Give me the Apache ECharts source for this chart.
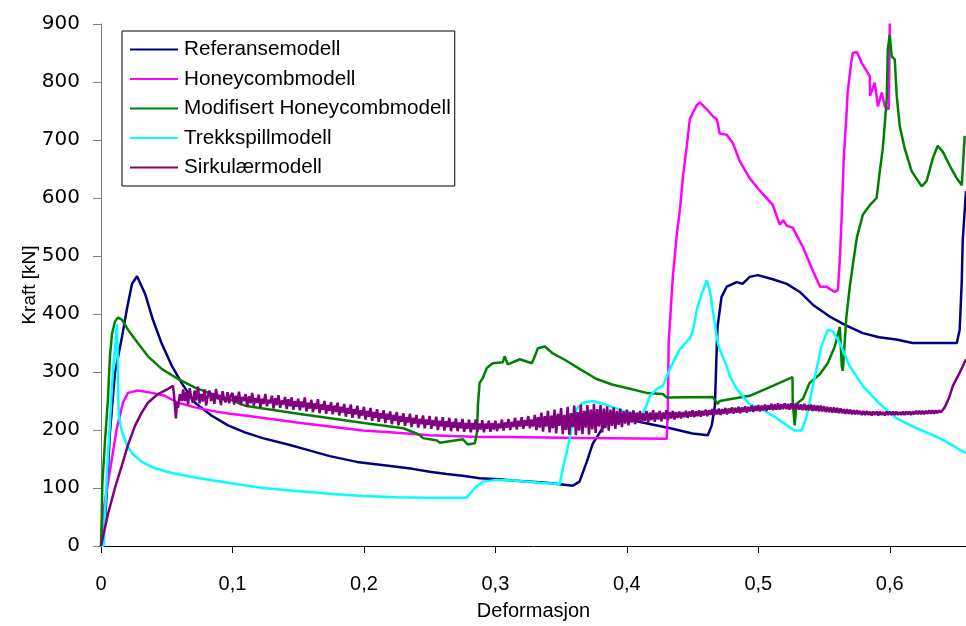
<!DOCTYPE html>
<html>
<head>
<meta charset="utf-8">
<script src="https://cdn.jsdelivr.net/npm/echarts@6/dist/echarts.min.js"></script>
<style>
html,body{margin:0;padding:0;background:#fff;}
#chart{width:966px;height:626px;}
</style>
</head>
<body>
<div id="chart"></div>
<script>
// Series names
const seriesNames = ['Referansemodell','Honeycombmodell','Modifisert Honeycombmodell','Trekkspillmodell','Sirkulærmodell'];
const seriesColors = ['#000080','#FF00FF','#008000','#00FFFF','#800080'];

// Axis ticks
const xTicks = [0,0.1,0.2,0.3,0.4,0.5,0.6];
const yTicks = [0,100,200,300,400,500,600,700,800,900];

// Referansemodell [deformasjon, kraft]
const refData = [[0,0],[.003,40],[.0045,100],[.0068,196],[.0106,298],[.016,361],[.020,412],[.0236,452],[.0274,465],[.0335,435],[.0395,390],[.046,350],[.054,310],[.0616,280],[.0715,247],[.084,225],[.0966,208],[.1095,196],[.123,186],[.1437,174],[.155,167],[.174,155],[.1947,145],[.22,138],[.237,133],[.25,128],[.263,124],[.275,121],[.288,117],[.303,115],[.313,113],[.339,109],[.359,104],[.364,111],[.3695,145],[.374,176],[.382,205],[.389,220],[.395,222],[.412,213],[.433,203],[.45,194],[.4616,191],[.4646,208],[.467,242],[.4685,350],[.469,378],[.472,429],[.476,447],[.4836,455],[.488,452],[.4935,464],[.4996,467],[.511,460],[.5217,452],[.5316,438],[.5415,416],[.554,396],[.567,380],[.5795,367],[.592,360],[.605,356],[.6175,350],[.651,350],[.6532,373],[.6548,458],[.6555,526],[.657,578],[.658,612]];

// Honeycombmodell
const honeyData = [[0,0],[.0005,15],[.0015,55],[.0046,100],[.0084,152],[.012,203],[.0167,247],[.0205,264],[.028,268],[.0388,264],[.0487,259],[.0586,247],[.0715,239],[.0844,233],[.098,228],[.1095,225],[.149,213],[.199,199],[.22,196],[.25,191],[.288,188],[.311,188],[.364,186],[.4304,185],[.4312,237],[.4318,350],[.435,464],[.438,537],[.4403,578],[.4426,634],[.4456,690],[.4479,736],[.4532,760],[.4555,765],[.4608,753],[.4654,741],[.4684,736],[.4707,711],[.476,709],[.4806,695],[.486,663],[.4935,634],[.501,613],[.511,588],[.5163,554],[.519,562],[.5217,552],[.5262,549],[.534,515],[.5414,475],[.547,447],[.552,447],[.558,438],[.5605,441],[.562,492],[.5635,571],[.565,668],[.567,741],[.568,782],[.5703,827],[.5718,850],[.5749,852],[.5787,833],[.5848,810],[.585,776],[.5886,799],[.591,758],[.594,782],[.5962,758],[.5993,753],[.6,901]];

// Modifisert Honeycombmodell
const modHoneyData = [[0,0],[.0005,43],[.001,106],[.003,179],[.0053,254],[.0068,327],[.0084,366],[.0106,387],[.013,394],[.016,390],[.0205,373],[.028,350],[.0357,327],[.0464,305],[.0586,288],[.0715,273],[.0844,262],[.0966,254],[.1095,242],[.15,228],[.2,212],[.23,203],[.24,194],[.2426,191],[.245,186],[.2555,182],[.2578,178],[.2753,184],[.279,175],[.2844,177],[.286,196],[.2867,242],[.288,281],[.2905,290],[.2935,307],[.298,315],[.3057,317],[.307,327],[.3095,313],[.3186,322],[.3277,315],[.33,327],[.3323,341],[.3376,344],[.3437,332],[.3544,319],[.3643,305],[.377,288],[.3894,278],[.4023,271],[.415,264],[.4274,262],[.4304,256],[.4654,257],[.469,245],[.4707,250],[.4935,259],[.511,276],[.526,291],[.5262,247],[.5277,208],[.529,245],[.534,254],[.539,281],[.5468,296],[.5528,315],[.5582,344],[.562,378],[.5635,310],[.5643,302],[.567,395],[.5696,447],[.572,486],[.575,532],[.5795,571],[.585,588],[.590,600],[.5924,646],[.5947,685],[.5977,770],[.5985,856],[.6,881],[.6015,844],[.6038,839],[.6053,776],[.6076,724],[.6114,685],[.6167,646],[.6243,620],[.628,629],[.6327,668],[.6365,690],[.6403,680],[.6456,656],[.651,634],[.6548,622],[.6563,680],[.657,707]];

// Trekkspillmodell
const trekkData = [[0,0],[.002,0],[.003,55],[.0046,128],[.0068,213],[.009,298],[.0114,361],[.012,382],[.0128,320],[.013,271],[.0135,225],[.016,196],[.0198,174],[.0236,160],[.031,145],[.041,134],[.054,126],[.0715,118],[.0966,109],[.123,100],[.149,95],[.174,90],[.199,86],[.225,84],[.25,83],[.278,83],[.2844,100],[.2905,111],[.301,114],[.313,113],[.334,109],[.349,107],[.3513,134],[.355,169],[.358,203],[.362,237],[.3665,247],[.374,250],[.3848,243],[.397,233],[.4114,224],[.415,242],[.4175,259],[.4228,271],[.4274,276],[.4327,305],[.4403,339],[.4479,358],[.4502,370],[.4532,407],[.457,435],[.4608,458],[.4631,441],[.4654,405],[.4692,350],[.4707,339],[.476,310],[.4783,293],[.4836,271],[.486,264],[.4935,244],[.4989,240],[.511,225],[.5217,208],[.5277,199],[.533,199],[.537,225],[.5415,276],[.548,344],[.5528,373],[.5567,370],[.562,350],[.5696,310],[.5795,276],[.5924,245],[.6053,220],[.6205,203],[.638,186],[.658,160]];

// Sirkulærmodell
const sirkData = [[0,0],[.0053,55],[.0106,100],[.016,140],[.0205,174],[.026,208],[.031,230],[.0357,247],[.0433,262],[.051,271],[.0547,276],[.0555,262],[.057,220],[.0578,248],[.0586,238],[.060,262],[.0615,250],
[.0625,270],[.06375,250],[.065,266],[.06625,244],[.0675,272],[.06875,255],[.07,247],[.07125,268],[.0725,251],[.07375,275],[.075,246],[.07625,262],[.0775,249],[.07875,270],[.08,242],[.08125,259],[.0825,268],[.08375,250],[.085,264],[.08625,245],[.0875,271],[.08875,253],[.09,261],[.09125,243],[.0925,267],[.09375,252],[.095,248],[.09625,265],[.0975,246],[.09875,260],
[.1,264],[.10125,244],[.1025,259],[.10375,248],[.105,266],[.10625,243],[.1075,257],[.10875,250],[.11,262],[.11125,240],[.1125,258],[.11375,246],[.115,264],[.11625,242],[.1175,255],[.11875,247],[.12,261],[.12125,239],[.1225,254],[.12375,245],[.125,262],[.12625,241],[.1275,252],[.12875,246],[.13,259],[.13125,237],[.1325,255],[.13375,243],[.135,260],[.13625,238],[.1375,251],[.13875,244],[.14,257],[.14125,236],[.1425,253],[.14375,241],[.145,256],[.14625,235],[.1475,250],[.14875,240],
[.15,254],[.15125,234],[.1525,249],[.15375,239],[.155,256],[.15625,232],[.1575,247],[.15875,237],[.16,252],[.16125,231],[.1625,246],[.16375,236],[.165,253],[.16625,229],[.1675,244],[.16875,235],[.17,250],[.17125,228],[.1725,243],[.17375,233],[.175,248],[.17625,227],[.1775,242],[.17875,231],[.18,247],[.18125,225],[.1825,240],[.18375,230],[.185,245],[.18625,223],[.1875,238],[.18875,228],[.19,244],[.19125,221],[.1925,236],[.19375,227],[.195,242],[.19625,220],[.1975,234],[.19875,225],
[.2,240],[.20125,218],[.2025,233],[.20375,223],[.205,238],[.20625,216],[.2075,231],[.20875,221],[.21,236],[.21125,214],[.2125,229],[.21375,220],[.215,234],[.21625,212],[.2175,228],[.21875,218],[.22,232],[.22125,210],[.2225,226],[.22375,216],[.225,231],[.22625,208],[.2275,224],[.22875,214],[.23,229],[.23125,207],[.2325,222],[.23375,213],[.235,228],[.23625,205],[.2375,221],[.23875,211],[.24,226],[.24125,204],[.2425,219],[.24375,210],[.245,225],[.24625,203],[.2475,218],[.24875,209],
[.25,224],[.25125,202],[.2525,217],[.25375,207],[.255,223],[.25625,200],[.2575,216],[.25875,206],[.26,222],[.26125,199],[.2625,215],[.26375,205],[.265,221],[.26625,198],[.2675,214],[.26875,204],[.27,220],[.27125,198],[.2725,213],[.27375,203],[.275,219],[.27625,197],[.2775,212],[.27875,202],[.28,218],[.28125,196],[.2825,212],[.28375,201],[.285,218],[.28625,197],[.2875,211],[.28875,201],[.29,217],[.29125,196],[.2925,211],[.29375,202],[.295,216],[.29625,197],[.2975,212],[.29875,201],
[.3,216],[.30125,198],[.3025,211],[.30375,203],[.305,218],[.30625,199],[.3075,213],[.30875,204],[.31,219],[.31125,200],[.3125,214],[.31375,205],[.315,221],[.31625,201],[.3175,216],[.31875,206],[.32,222],[.32125,202],[.3225,217],[.32375,207],[.325,224],[.32625,203],[.3275,218],[.32875,206],
[.33,226],[.33125,200],[.3325,222],[.33375,204],[.335,230],[.33625,197],[.3375,224],[.33875,206],[.34,233],[.34125,196],[.3425,225],[.34375,203],[.345,235],[.34625,194],[.3475,228],[.34875,207],[.35,238],[.35125,193],[.3525,226],[.35375,200],[.355,240],[.35625,192],[.3575,229],[.35875,205],[.36,242],[.36125,191],[.3625,231],[.36375,199],[.365,244],[.36625,193],[.3675,233],[.36875,204],[.37,243],[.37125,192],[.3725,235],[.37375,201],[.375,245],[.37625,195],[.3775,236],[.37875,206],[.38,243],[.38125,196],[.3825,237],[.38375,203],[.385,241],[.38625,199],[.3875,235],[.38875,207],[.39,239],[.39125,202],[.3925,233],[.39375,209],[.395,237],[.39625,205],[.3975,232],[.39875,211],
[.4,235],[.40125,208],[.4025,231],[.40375,213],[.405,234],[.40625,210],[.4075,230],[.40875,215],[.41,233],[.41125,212],[.4125,229],[.41375,216],[.415,233],[.41625,213],[.4175,230],[.41875,217],[.42,234],[.42125,214],[.4225,230],[.42375,218],[.425,233],[.42625,215],[.4275,230],[.42875,219],[.43,234],[.43125,217],[.4325,231],[.43375,220],[.435,233],[.43625,218],[.4375,231],[.43875,221],
[.44,232],[.44125,220],[.4425,231],[.44375,222],[.445,233],[.44625,221],[.4475,232],[.44875,223],[.45,234],[.45125,222],[.4525,232],[.45375,224],[.455,234],[.45625,223],[.4575,233],[.45875,225],[.46,235],[.46125,224],[.4625,234],[.46375,226],[.465,236],[.46625,225],[.4675,235],[.46875,227],[.47,237],[.47125,226],[.4725,236],[.47375,228],[.475,238],[.47625,227],[.4775,237],[.47875,229],[.48,239],[.48125,228],[.4825,238],[.48375,230],[.485,240],[.48625,229],[.4875,239],[.48875,231],[.49,241],[.49125,230],[.4925,240],[.49375,232],[.495,242],[.49625,231],[.4975,241],[.49875,233],[.5,243],[.50125,232],[.5025,242],[.50375,234],[.505,244],[.50625,233],[.5075,243],[.50875,235],[.51,245],[.51125,234],[.5125,244],[.51375,235],[.515,246],[.51625,235],[.5175,244],[.51875,236],
[.52,246],[.52125,236],[.5225,245],[.52375,235],[.525,246],[.52625,236],[.5275,245],[.52875,235],[.53,245],[.53125,235],[.5325,244],[.53375,234],[.535,245],[.53625,234],[.5375,243],[.53875,234],[.54,244],[.54125,233],[.5425,243],[.54375,233],[.545,242],[.54625,232],[.5475,242],[.54875,232],[.55,241],[.55125,231],[.5525,240],[.55375,231],[.555,239],[.55625,230],[.5575,239],[.55875,230],
[.56,238],[.56125,229],[.5625,237],[.56375,229],[.565,236],[.56625,228],[.5675,236],[.56875,228],[.57,235],[.57125,227],[.5725,234],[.57375,227],[.575,234],[.57625,227],[.5775,233],[.57875,226],[.58,233],[.58125,226],[.5825,233],[.58375,226],[.585,232],[.58625,225],[.5875,232],[.58875,226],[.59,232],[.59125,225],[.5925,232],[.59375,226],[.595,231],[.59625,225],[.5975,232],[.59875,226],[.6,232],[.60125,226],[.6025,232],[.60375,226],[.605,232],[.60625,226],[.6075,231],[.60875,226],[.61,232],[.61125,226],[.6125,232],[.61375,227],[.615,232],[.61625,226],[.6175,232],[.61875,227],[.62,233],[.62125,227],[.6225,233],[.62375,227],[.625,233],[.62625,227],[.6275,233],[.62875,228],[.63,234],[.63125,228],[.6325,234],[.63375,228],[.635,234],[.63625,229],[.6375,234],[.63875,230],[.64,233],
[.6418,239],[.645,255],[.648,276],[.653,298],[.658,322]];

const allData = [refData, honeyData, modHoneyData, trekkData, sirkData];

const chart = echarts.init(document.getElementById('chart'), null, {renderer:'canvas'});
const fontFam = '"Liberation Sans", Arial, sans-serif';

chart.setOption({
  animation: false,
  backgroundColor: '#ffffff',
  grid: {left: 101, right: 0, top: 24, bottom: 74, containLabel: false},
  legend: {
    orient: 'vertical',
    left: 122, top: 31,
    padding: [8, 4, 8, 8],
    itemGap: 8.5,
    itemWidth: 48, itemHeight: 2,
    icon: 'rect',
    borderColor: '#000', borderWidth: 1,
    backgroundColor: '#fff',
    textStyle: {fontFamily: fontFam, fontSize: 20.7, color: '#000', lineHeight: 20, padding: [0,0,0,1]},
    data: seriesNames.map(n => ({name: n}))
  },
  xAxis: {
    type: 'value', min: 0, max: 0.658, interval: 0.1,
    name: 'Deformasjon', nameLocation: 'middle', nameGap: 55, nameMoveOverlap: false,
    nameTextStyle: {fontFamily: fontFam, fontSize: 20, color: '#000'},
    axisLine: {show: true, onZero: false, lineStyle: {color: '#000', width: 1}},
    axisTick: {show: true, length: 7, lineStyle: {color: '#000'}},
    splitLine: {show: false},
    axisLabel: {
      margin: 28, fontFamily: fontFam, fontSize: 20, color: '#000',
      showMaxLabel: false,
      formatter: v => (xTicks.indexOf(Math.round(v*10)/10) >= 0 ? (Math.round(v*10)/10).toString().replace('.', ',') : '')
    }
  },
  yAxis: {
    type: 'value', min: 0, max: 900, interval: 100,
    name: 'Kraft [kN]', nameLocation: 'middle', nameGap: 62, nameRotate: 90, nameMoveOverlap: false,
    nameTextStyle: {fontFamily: fontFam, fontSize: 19, color: '#000'},
    axisLine: {show: true, lineStyle: {color: '#808080', width: 1}},
    axisTick: {show: true, length: 8, lineStyle: {color: '#808080'}},
    splitLine: {show: false},
    axisLabel: {margin: 21, fontFamily: '"DejaVu Sans", sans-serif', fontSize: 20, color: '#000',
      formatter: v => (yTicks.indexOf(v) >= 0 ? String(v) : '')}
  },
  series: allData.map((d, i) => ({
    name: seriesNames[i],
    type: 'line',
    data: d,
    symbol: 'none',
    showSymbol: false,
    clip: true,
    color: seriesColors[i],
    lineStyle: {color: seriesColors[i], width: 2.5},
    itemStyle: {color: seriesColors[i]}
  }))
});
</script>
</body>
</html>
